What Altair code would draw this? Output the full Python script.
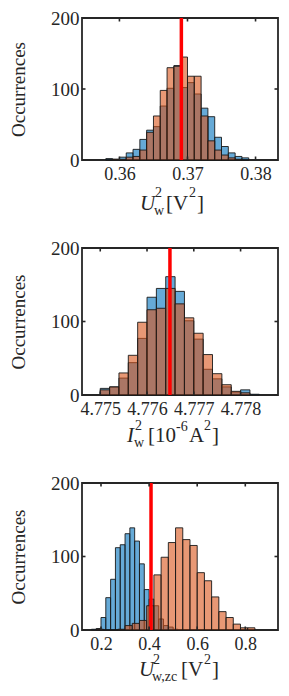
import altair as alt
import pandas as pd

# ---------------- data ----------------
# Panel 1 : U_w^2 [V^2]
p1_blue_start, p1_blue_w = 0.358, 0.001
p1_blue = [2, 1, 4, 10, 15, 29, 42, 47, 76, 101, 133, 102, 109, 93, 73, 61, 32, 19, 10, 5, 3]
p1_orange_start, p1_orange_w = 0.358, 0.001
p1_orange = [0, 1, 1, 4, 5, 14, 39, 62, 98, 130, 132, 145, 118, 118, 62, 27, 14, 7, 3, 1, 0]
p1_red = [0.3691]
p1_xticks = [0.36, 0.37, 0.38]
p1_xdomain = [0.3545, 0.3833]

# Panel 2 : I_w^2 [1e-6 A^2]
p2_blue_start, p2_blue_w = 4.7750, 0.0002
p2_blue = [9, 11, 23, 44, 77, 133, 145, 161, 141, 101, 76, 35, 22, 11, 4, 7, 1]
p2_orange_start, p2_orange_w = 4.7750, 0.0002
p2_orange = [7, 11, 30, 54, 99, 116, 118, 145, 124, 105, 84, 55, 29, 14, 5, 3]
p2_red = [4.77649]
p2_xticks = [4.775, 4.776, 4.777, 4.778]
p2_xdomain = [4.77461, 4.77880]

# Panel 3 : U_w,zc^2 [V^2]
p3_blue_start, p3_blue_w = 0.16, 0.02
p3_blue = [1, 2, 17, 44, 69, 112, 116, 131, 139, 121, 90, 55, 42, 33, 15, 6, 4, 1]
p3_orange_start, p3_orange_w = 0.18, 0.03
p3_orange = [1, 0, 0, 1, 6, 9, 13, 33, 75, 99, 119, 139, 123, 115, 78, 67, 45, 25, 17, 8, 3, 3]
p3_red = [0.408]
p3_xticks = [0.2, 0.4, 0.6, 0.8]
p3_xdomain = [0.121, 0.936]

y_ticks = [0, 100, 200]
y_title = "Occurrences"

# title pieces: (text, dx, dy, size, italic)
p1_title = [("U", 58, 50, 21, True), ("2", 73, 37, 14, False), ("w", 72, 55, 14, False),
            ("[V", 84, 50, 21, False), ("2", 107, 37, 14, False), ("]", 115, 50, 21, False)]
p2_title = [("I", 45, 47, 21, True), ("2", 53, 35, 14, False), ("w", 52, 52, 14, False),
            ("[10", 66, 47, 21, False), ("-6", 94, 36, 14, False), ("A", 107, 47, 21, False),
            ("2", 122, 35, 14, False), ("]", 130, 47, 21, False)]
p3_title = [("U", 57, 46, 21, True), ("2", 71, 34, 14, False), ("w,zc", 70, 51, 14, False),
            ("[V", 99, 46, 21, False), ("2", 122, 34, 14, False), ("]", 130, 46, 21, False)]

# ---------------- style ----------------
FONT = "Liberation Serif"
W = 196
BLUE = "#0072BD"
ORANGE = "#D95319"
EDGE = "#1a1a1a"
AXC = "#262626"


def hist_df(start, width, counts):
    n = len(counts)
    return pd.DataFrame({
        "x0": [start + i * width for i in range(n)],
        "x1": [start + (i + 1) * width for i in range(n)],
        "n": counts,
        "base": [0] * n,
    })


def panel(bs, bw, blue, os_, ow, orange, red, xticks, xdom, fmt, title, H):
    xs = alt.Scale(domain=xdom, nice=False, zero=False)
    ys = alt.Scale(domain=[0, 200], nice=False)
    xaxis = alt.Axis(values=xticks, format=fmt, title=None, grid=False, domain=False,
                     ticks=False, tickSize=0, labelFont=FONT, labelFontSize=18,
                     labelColor=AXC, labelPadding=5, labelFlush=False, labelOverlap=False)
    yaxis = alt.Axis(values=y_ticks, title=y_title, grid=False, domain=False, ticks=False,
                     tickSize=0, labelFont=FONT, labelFontSize=19, labelColor=AXC,
                     labelPadding=3, titleFont=FONT, titleFontSize=19,
                     titleFontWeight="normal", titleColor=AXC, titlePadding=22)

    blue_l = alt.Chart(hist_df(bs, bw, blue)).mark_rect(
        fill=BLUE, fillOpacity=0.6, stroke=EDGE, strokeWidth=0.9
    ).encode(
        x=alt.X("x0:Q", scale=xs, axis=xaxis), x2="x1",
        y=alt.Y("n:Q", scale=ys, axis=yaxis), y2="base",
    )
    orange_l = alt.Chart(hist_df(os_, ow, orange)).mark_rect(
        fill=ORANGE, fillOpacity=0.6, stroke=EDGE, strokeWidth=0.9
    ).encode(
        x=alt.X("x0:Q", scale=xs, axis=xaxis), x2="x1",
        y=alt.Y("n:Q", scale=ys, axis=yaxis), y2="base",
    )
    red_l = alt.Chart(pd.DataFrame({"x0": red})).mark_rule(
        color="#FF0000", strokeWidth=3.5
    ).encode(x=alt.X("x0:Q", scale=xs, axis=xaxis), y=alt.value(0), y2=alt.value(H))

    xt = pd.DataFrame({"x0": xticks})
    yt = pd.DataFrame({"n": y_ticks})
    tick_top = alt.Chart(xt).mark_rule(color=AXC, strokeWidth=1.6).encode(
        x=alt.X("x0:Q", scale=xs, axis=xaxis), y=alt.value(0), y2=alt.value(3.5))
    tick_bot = alt.Chart(xt).mark_rule(color=AXC, strokeWidth=1.6).encode(
        x=alt.X("x0:Q", scale=xs, axis=xaxis), y=alt.value(H - 3.5), y2=alt.value(H))
    tick_l = alt.Chart(yt).mark_rule(color=AXC, strokeWidth=1.6).encode(
        y=alt.Y("n:Q", scale=ys, axis=yaxis), x=alt.value(0), x2=alt.value(3.5))
    tick_r = alt.Chart(yt).mark_rule(color=AXC, strokeWidth=1.6).encode(
        y=alt.Y("n:Q", scale=ys, axis=yaxis), x=alt.value(W - 3.5), x2=alt.value(W))

    texts = []
    for txt, dx, dy, size, ital in title:
        texts.append(
            alt.Chart(pd.DataFrame({"s": [txt]})).mark_text(
                font=FONT, fontSize=size, fontStyle="italic" if ital else "normal",
                align="left", baseline="alphabetic", color=AXC
            ).encode(text="s:N", x=alt.value(dx), y=alt.value(H + dy))
        )

    return alt.layer(blue_l, orange_l, red_l, tick_top, tick_bot, tick_l, tick_r, *texts).properties(
        width=W, height=H)


c1 = panel(p1_blue_start, p1_blue_w, p1_blue, p1_orange_start, p1_orange_w, p1_orange,
           p1_red, p1_xticks, p1_xdomain, ".2f", p1_title, 142)
c2 = panel(p2_blue_start, p2_blue_w, p2_blue, p2_orange_start, p2_orange_w, p2_orange,
           p2_red, p2_xticks, p2_xdomain, ".3f", p2_title, 147)
c3 = panel(p3_blue_start, p3_blue_w, p3_blue, p3_orange_start, p3_orange_w, p3_orange,
           p3_red, p3_xticks, p3_xdomain, ".1f", p3_title, 147)

chart = alt.vconcat(c1, c2, c3, spacing=88, bounds="flush").properties(
    padding={"left": 0, "top": 0, "right": 0, "bottom": 0},
    background="white",
).configure_view(stroke=AXC, strokeWidth=1.8)

chart.save("out.html", embed_options={"renderer": "svg", "actions": False})
